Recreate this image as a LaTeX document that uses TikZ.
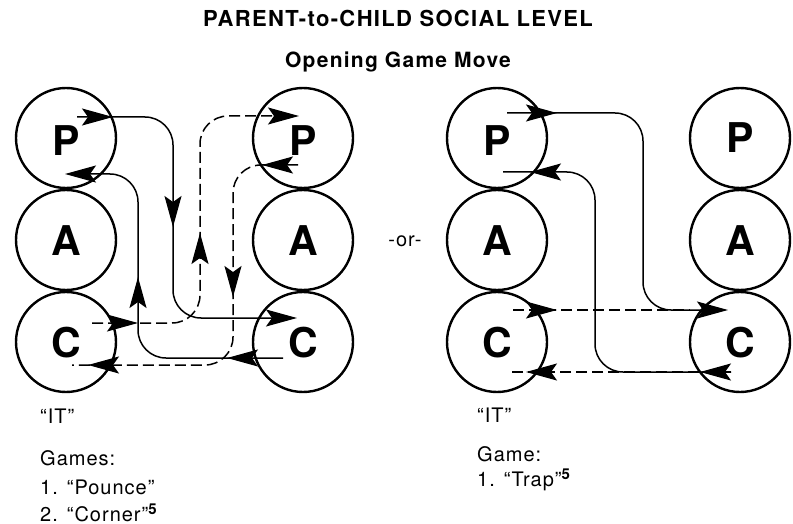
\documentclass[tikz,border=0pt]{standalone}
\usepackage{fontspec}
\setmainfont{TeX Gyre Heros}
\newfontfamily\spaced{TeX Gyre Heros}[LetterSpace=6]
\newfontfamily\bodyfont{TeX Gyre Heros}[LetterSpace=5]
\usetikzlibrary{arrows.meta,decorations.markings,calc}
\newcommand\upnum[1]{\raisebox{7pt}{\fontsize{15}{15}\selectfont\bfseries #1}}

\begin{document}
\begin{tikzpicture}[x=1pt,y=-1pt,
  >={Stealth[length=31pt,width=17pt,inset=6pt]},
  ego/.style={circle,draw,line width=2.4pt,minimum size=100pt,inner sep=0pt,
    text height=30pt,text depth=0pt,
    font=\fontsize{41}{41}\selectfont\bfseries},
  lowego/.style={ego,text height=36pt},
  conn/.style={line width=1.5pt,rounded corners=28pt},
  dashconn/.style={conn,dash pattern=on 11pt off 5pt},
  tips/.style={postaction={decorate},decoration={markings,#1}},
  title/.style={anchor=base,inner sep=0pt,font=\spaced\bfseries\fontsize{22}{24}\selectfont},
  subtitle/.style={anchor=base,inner sep=0pt,font=\spaced\bfseries\fontsize{21}{24}\selectfont},
  body/.style={anchor=base west,inner sep=0pt,font=\bodyfont\fontsize{20}{22}\selectfont},
]
\useasboundingbox (0,0) rectangle (793,524);

% headings
\node[title] (ttl) at (398,27) {PARENT-to-CHILD SOCIAL LEVEL};
\node[subtitle] (sub) at (398,68) {Opening Game Move};

% ego-state stacks
\node[lowego] (P1) at (66,138) {P};
\node[ego] (A1) at (66,240) {A};
\node[ego] (C1) at (66,342) {C};
\node[lowego] (P2) at (303,138) {P};
\node[ego] (A2) at (303,240) {A};
\node[ego] (C2) at (303,342) {C};
\node[lowego] (P3) at (497,138) {P};
\node[ego] (A3) at (497,240) {A};
\node[ego] (C3) at (497,342) {C};
\node[ego] (P4) at (740,138) {P};
\node[ego] (A4) at (740,240) {A};
\node[ego] (C4) at (740,342) {C};

\node[body,anchor=base] (or) at (405,247) {-or-};

% lanes for the vertical runs
\coordinate (laneSA) at (173,0);
\coordinate (laneSB) at (138,0);
\coordinate (laneDA) at (200,0);
\coordinate (laneDB) at (233,0);
\coordinate (laneSC) at (643,0);
\coordinate (laneSD) at (595,0);

% end points inside the circles
\coordinate (sa0) at ($(P1)+(11,-21)$);
\coordinate (sa1) at ($(C2)+(-6,-24)$);
\coordinate (sb0) at ($(C2)+(-20,16)$);
\coordinate (sb1) at ($(P1)+(-1,36)$);
\coordinate (da0) at ($(C1)+(26,-19)$);
\coordinate (da1) at ($(P2)+(-4,-22)$);
\coordinate (db0) at ($(P2)+(-5,27)$);
\coordinate (db1) at ($(C1)+(6,23)$);
\coordinate (sc0) at ($(P3)+(10,-25)$);
\coordinate (sc1) at ($(C4)+(-12,-32)$);
\coordinate (dc0) at ($(C3)+(16,-32)$);
\coordinate (dc1) at ($(C4)+(-50,-32)$);
\coordinate (sd0) at ($(C4)+(-9,30)$);
\coordinate (sd1) at ($(P3)+(6,34)$);
\coordinate (dd0) at ($(C4)+(-9,30)$);
\coordinate (dd1) at ($(C3)+(15,30)$);

% Pounce / Corner: solid Parent-to-Child transaction and its return
\draw[conn,->,tips={mark=at position 36pt with {\arrow{>}},mark=at position 194pt with {\arrow{>}}}]
  (sa0) -| (laneSA |- sa1) -- (sa1);
\draw[conn,->,tips={mark=at position 56pt with {\arrow{>}},mark=at position 214pt with {\arrow{>}}}]
  (sb0) -| (laneSB |- sb1) -- (sb1);
% dashed Child-to-Parent transaction and its return
\draw[dashconn,->,tips={mark=at position 46pt with {\arrow{>}},mark=at position 186pt with {\arrow{>}}}]
  (da0) -| (laneDA |- da1) -- (da1);
\draw[dashconn,tips={mark=at position 36pt with {\arrow{>}},mark=at position 185pt with {\arrow{>}},mark=at position -16pt with {\arrow{>}}}]
  (db0) -| (laneDB |- db1) -- (db1);

% Trap
\draw[conn,->,tips={mark=at position 50pt with {\arrow{>}}}]
  (sc0) -| (laneSC |- sc1) -- (sc1);
\draw[dashconn,tips={mark=at position 44pt with {\arrow{>}}}]
  (dc0) -- (dc1);
\draw[dashconn,tips={mark=at position -14pt with {\arrow{>}}}]
  (dd0) -- (dd1);
\draw[conn,tips={mark=at position 31pt with {\arrow{>}},mark=at position -27pt with {\arrow{>}}}]
  (sd0) -| (laneSD |- sd1) -- (sd1);

% captions
\node[body] (it1) at (40,423) {“IT”};
\node[body] (g1) at (40,465) {Games:};
\node[body] (g1a) at (40,494) {1.\hspace{9pt}“Pounce”};
\node[body] (g1b) at (40,521) {2.\hspace{9pt}“Corner”\upnum{5}};
\node[body] (it2) at (477,422) {“IT”};
\node[body] (g2) at (477,461) {Game:};
\node[body] (g2a) at (477,486) {1.\hspace{9pt}“Trap”\upnum{5}};
\end{tikzpicture}
\end{document}
